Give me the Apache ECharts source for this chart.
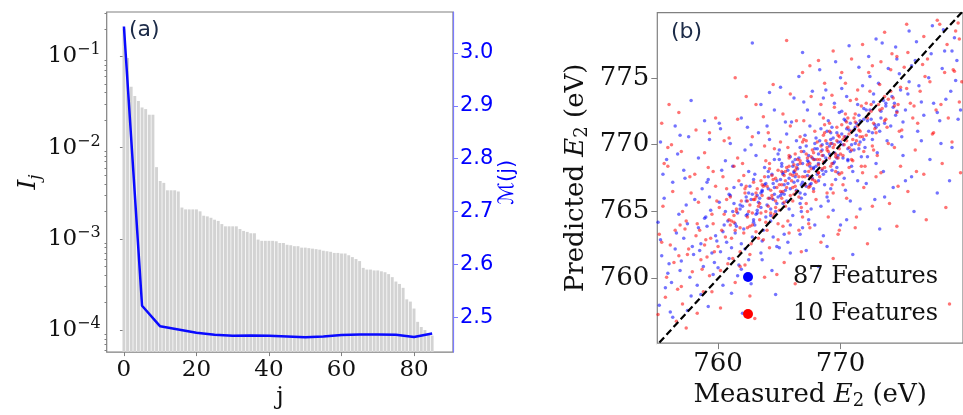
<!DOCTYPE html>
<html>
<head>
<meta charset="utf-8">
<script src="https://cdn.jsdelivr.net/npm/echarts@6/dist/echarts.min.js"></script>
<style>
html,body{margin:0;padding:0;background:#fff;}
#c{width:963px;height:415px;}
</style>
</head>
<body>
<div id="c"></div>
<script>
// ---------- Panel (a) data ----------
const importance = [0.2,0.096,0.0465,0.0367,0.0324,0.0275,0.0264,0.0229,0.0229,0.0061,
0.0043,0.0041,0.0034,0.0034,0.0034,0.0033,0.0022,0.0021,0.0021,0.0021,
0.0021,0.0020,0.00179,0.00176,0.0017,0.00162,0.00157,0.00145,0.00137,0.00137,
0.00137,0.00137,0.00128,0.00122,0.00119,0.00115,0.00115,0.00098,0.00095,0.00095,
0.00095,0.00095,0.00094,0.0009,0.0009,0.00086,0.00085,0.00083,0.00083,0.0008,
0.0008,0.00079,0.00078,0.00077,0.00076,0.00074,0.00073,0.00072,0.0007,0.0007,
0.00069,0.00069,0.00066,0.00063,0.0006,0.00057,0.00048,0.00046,0.00046,0.00045,
0.00045,0.00044,0.00043,0.00041,0.00038,0.00034,0.00032,0.00029,0.000217,0.000205,
0.000172,0.000123,0.000108,0.0001,0.000093,0.000087];
const lineJ = [0,5,10,15,20,25,30,35,40,45,50,55,60,65,70,75,80,85];
const lineM = [3.05,2.522,2.483,2.477,2.471,2.467,2.465,2.4655,2.465,2.464,2.4625,2.464,2.4665,2.4675,2.4675,2.467,2.463,2.4695];
const xTicksA = [0,20,40,60,80];
const yTicksA = [1e-4,1e-3,1e-2,1e-1];
const yMinorA = [6e-5,7e-5,8e-5,9e-5,2e-4,3e-4,4e-4,5e-4,6e-4,7e-4,8e-4,9e-4,
  2e-3,3e-3,4e-3,5e-3,6e-3,7e-3,8e-3,9e-3,2e-2,3e-2,4e-2,5e-2,6e-2,7e-2,8e-2,9e-2,2e-1,3e-1];
const yTicksRight = [2.5,2.6,2.7,2.8,2.9,3.0];

// ---------- Panel (b) data ----------
const xTicksB = [760,770];
const yTicksB = [760,765,770,775];
const diagLine = [[750,750],[785,785]];
const blue87 = [
[755.4,761.7],[755.1,764.2],[755.7,759.3],[755.3,762.9],[755.9,760.4],[755.6,766.0],
[756.5,762.2],[756.2,759.7],[756.8,764.8],[756.0,761.1],[756.6,763.4],[756.3,767.2],[756.9,760.6],
[757.2,763.0],[757.7,760.1],[757.4,765.5],[757.9,762.4],[757.0,761.3],[757.5,764.1],[757.8,758.7],[757.3,767.5],
[758.6,762.6],[758.1,765.9],[758.8,760.9],[758.4,763.8],[758.0,761.8],[758.7,766.7],[758.3,759.5],[758.9,764.5],[758.5,762.1],
[759.1,763.9],[759.7,761.2],[759.4,765.1],[759.9,762.8],[759.2,767.4],[759.6,760.3],[759.0,764.6],[759.8,763.2],[759.3,766.1],[759.5,761.9],
[760.4,763.5],[760.9,766.3],[760.2,762.0],[760.6,765.0],[760.0,760.8],[760.8,764.3],[760.3,768.1],[760.7,762.7],[760.1,765.7],[760.5,764.0],[760.9,761.5],
[761.6,764.9],[761.1,762.3],[761.9,767.0],[761.3,765.6],[761.7,761.0],[761.0,766.2],[761.4,763.4],[761.8,765.2],[761.2,768.4],[761.5,763.9],[761.9,762.6],[761.3,766.8],[761.6,760.2],
[762.3,766.1],[762.8,763.1],[762.0,765.4],[762.5,768.0],[762.9,764.2],[762.2,762.2],[762.6,766.9],[762.4,764.8],[762.7,770.0],[762.1,763.7],[762.9,767.4],[762.5,761.4],[762.3,765.8],[762.8,766.3],
[763.5,766.4],[763.0,764.0],[763.8,768.3],[763.2,765.1],[763.6,762.8],[763.9,767.1],[763.4,766.0],[763.1,769.2],[763.7,763.6],[763.3,765.7],[763.9,764.6],[763.5,761.9],[763.0,767.8],[763.6,766.5],[763.2,764.9],
[764.1,766.7],[764.6,768.9],[764.3,764.3],[764.8,767.3],[764.0,765.5],[764.5,763.1],[764.9,766.1],[764.2,770.4],[764.7,765.0],[764.4,767.8],[764.8,762.4],[764.1,768.0],[764.6,766.3],[764.3,764.7],[764.9,769.3],[764.5,765.9],
[765.3,767.8],[765.8,765.2],[765.0,769.6],[765.5,766.6],[765.9,764.0],[765.2,768.4],[765.7,767.1],[765.4,763.3],[765.1,766.2],[765.6,770.8],[765.8,767.5],[765.3,765.6],[765.0,768.9],[765.7,762.7],[765.4,767.0],[765.9,769.1],[765.2,766.4],
[766.2,768.0],[766.7,765.6],[766.4,770.3],[766.9,767.2],[766.1,764.7],[766.6,769.0],[766.3,767.6],[766.8,766.0],[766.0,771.7],[766.5,768.5],[766.9,763.8],[766.2,767.9],[766.7,769.8],[766.4,766.6],[766.1,768.7],[766.8,765.0],[766.5,767.3],
[767.4,768.7],[767.1,766.3],[767.9,770.1],[767.3,767.7],[767.6,765.2],[767.0,769.5],[767.8,768.2],[767.5,771.4],[767.2,766.9],[767.7,769.0],[767.4,764.4],[767.9,768.9],[767.1,770.7],[767.6,767.1],[767.3,772.6],[767.8,766.7],[767.5,768.4],
[768.2,769.3],[768.7,767.0],[768.4,771.2],[768.0,768.4],[768.9,766.1],[768.5,770.0],[768.1,769.7],[768.6,767.8],[768.3,772.3],[768.8,769.0],[768.4,765.4],[768.0,770.5],[768.7,768.7],[768.2,767.3],[768.9,771.0],[768.5,768.1],[768.6,773.5],
[769.3,770.1],[769.8,767.9],[769.0,771.8],[769.5,769.4],[769.2,766.7],[769.7,770.9],[769.4,768.6],[769.9,772.4],[769.1,769.9],[769.6,767.4],[769.3,771.3],[769.8,769.2],[769.0,765.8],[769.5,773.1],[769.2,770.4],[769.7,768.3],
[770.4,770.6],[770.9,768.4],[770.1,772.5],[770.6,769.7],[770.3,767.5],[770.8,771.6],[770.0,770.2],[770.5,773.6],[770.2,769.0],[770.7,771.1],[770.4,766.6],[770.9,770.0],[770.1,774.2],[770.6,768.8],[770.3,771.9],
[771.2,771.3],[771.7,769.1],[771.4,773.0],[771.9,770.4],[771.0,768.0],[771.5,772.2],[771.3,770.7],[771.8,774.4],[771.1,769.6],[771.6,771.8],[771.4,767.3],[771.9,772.7],[771.2,770.1],
[772.5,771.9],[772.0,769.8],[772.7,773.8],[772.3,771.0],[772.9,768.6],[772.1,772.6],[772.6,770.4],[772.4,775.1],[772.8,771.5],[772.2,769.1],[772.7,773.2],
[773.3,772.5],[773.8,770.3],[773.1,774.6],[773.6,771.6],[773.0,769.4],[773.5,773.3],[773.9,775.7],[773.2,771.0],[773.7,772.9],
[774.4,773.1],[774.1,771.4],[774.8,775.3],[774.5,772.2],[774.2,770.0],[774.9,774.1],[774.6,776.4],[774.3,772.8],
[775.5,773.8],[775.1,771.7],[775.8,775.9],[775.3,772.6],[775.6,774.7],[775.0,770.6],
[776.4,774.4],[776.8,772.2],[776.1,776.3],[776.6,773.2],[776.3,771.0],
[777.2,775.0],[777.6,773.1],[777.4,776.8],[777.9,772.4],
[778.3,775.7],[778.6,773.4],[778.1,771.8],
[779.4,774.8],[779.1,777.0],
[757.8,773.3],[762.8,777.6],[766.9,776.9],[756.3,757.1],[758.9,771.8],[773.6,766.1],[777.9,766.4],[764.2,773.9],
[760.2,771.2],[775.3,767.3],[770.5,764.4],[779.1,769.8],[756.9,770.7],[768.9,762.4],[772.9,777.9],
[761.4,764.1],[761.8,765.5],[761.2,765.0],
[762.3,764.7],[762.7,765.9],[762.5,766.4],[762.9,764.4],
[763.2,766.2],[763.5,765.3],[763.8,767.0],[763.1,764.8],[763.6,766.6],
[764.2,766.0],[764.5,767.1],[764.8,765.6],[764.1,767.6],[764.6,766.8],[764.3,765.2],
[765.1,767.4],[765.4,766.3],[765.7,768.1],[765.3,767.9],[765.9,766.7],[765.6,765.8],[765.2,768.6],
[766.2,767.2],[766.5,768.2],[766.8,767.0],[766.3,768.9],[766.7,766.4],[766.1,768.4],[766.9,768.6],
[767.1,768.0],[767.4,769.2],[767.7,767.5],[767.3,768.8],[767.9,769.7],[767.5,767.0],[767.2,769.9],[767.8,768.3],
[768.2,768.6],[768.5,769.6],[768.8,768.0],[768.3,770.3],[768.6,769.2],[768.1,767.8],[768.9,770.1],
[769.1,769.3],[769.4,770.5],[769.7,769.0],[769.2,770.9],[769.5,768.7],[769.8,770.2],[769.3,768.1],
[770.2,770.0],[770.5,771.2],[770.8,769.5],[770.1,770.8],[770.6,768.9],[770.4,771.8],
[771.3,771.6],[771.6,770.2],[771.1,771.1],[771.9,771.9],[771.5,769.7],
[772.2,771.8],[772.6,770.9],[772.4,772.6],[772.9,771.3],
[773.3,772.0],[773.7,773.1],[773.1,771.5],
[774.2,773.6],[774.6,772.5],
[755.5,767.8],[756.7,769.3],[757.2,768.1],[757.6,770.6],[758.4,769.0],[759.1,767.2],[759.3,770.4],[760.1,771.6],[760.6,768.8],[761.0,770.1],
[761.9,772.0],[762.2,769.6],[762.4,771.3],[763.3,770.9],[763.5,773.0],[764.0,771.4],[764.6,772.6],[765.1,774.3],[765.5,771.7],[766.2,773.5],
[766.6,775.1],[767.0,773.2],[767.7,774.0],[768.3,775.6],[768.8,774.1],[769.6,776.2],[770.0,775.0],[770.7,777.4],[771.5,775.8],[772.3,776.6],
[773.4,777.6],[774.5,777.3],[775.6,778.5],[776.2,777.7],[777.5,778.9],[778.5,777.0],[779.3,778.0],
[757.5,757.6],[758.6,758.8],[759.2,757.9],[760.4,759.5],[761.1,758.9],[761.9,760.7],[762.7,759.6],[763.6,761.4],[764.4,760.6],[765.0,762.3],
[765.9,761.9],[766.7,763.3],[767.2,762.1],[767.9,764.0],[768.6,763.2],[769.4,765.1],[770.0,764.0],[770.8,765.8],[771.6,765.2],[772.1,767.1],
[772.8,765.9],[773.5,768.0],[774.3,766.8],[775.1,769.2],[775.8,767.6],[776.6,770.3],[777.3,768.9],[778.2,770.1],[778.9,767.3],[779.6,771.9],
[776.0,765.0],[773.2,763.7],[771.0,761.8],[768.2,760.9],[764.7,758.8],[762.0,757.4],
[755.2,758.0],[755.8,768.9],[756.1,757.5],[755.3,770.2],[756.5,771.4],
[779.0,774.0],[779.8,772.6],[778.4,778.6],[779.5,776.3]
];
const red10 = [
[755.2,763.3],[755.8,760.1],[755.5,765.4],[755.0,761.6],[755.7,758.6],[755.4,762.7],
[756.4,761.2],[756.9,764.0],[756.1,762.5],[756.7,759.2],[756.3,766.5],[756.5,763.6],[756.8,761.7],
[757.6,762.2],[757.1,765.0],[757.9,760.5],[757.3,763.7],[757.8,766.4],[757.5,761.8],[757.0,759.4],[757.4,764.3],
[758.2,763.2],[758.7,760.7],[758.4,765.7],[758.9,762.5],[758.1,767.8],[758.6,761.4],[758.3,764.1],[758.8,759.0],[758.5,763.6],
[759.4,763.0],[759.9,765.8],[759.1,761.6],[759.6,764.1],[759.3,760.2],[759.8,766.9],[759.0,762.9],[759.5,764.8],[759.7,762.0],[759.2,768.3],
[760.5,764.8],[760.0,762.4],[760.7,766.7],[760.3,763.6],[760.8,761.1],[760.1,765.3],[760.6,763.1],[760.4,767.6],[760.9,764.4],[760.2,760.6],[760.7,765.9],
[761.3,764.2],[761.8,762.0],[761.0,766.1],[761.5,765.0],[761.2,761.5],[761.7,767.3],[761.4,763.6],[761.9,765.8],[761.1,763.0],[761.6,769.0],[761.3,764.7],[761.8,760.9],[761.0,764.0],
[762.6,765.5],[762.1,763.4],[762.9,767.2],[762.4,764.6],[762.7,762.6],[762.2,766.4],[762.5,765.0],[762.0,768.6],[762.8,764.0],[762.3,766.9],[762.6,761.8],[762.9,765.9],[762.4,763.8],[762.1,767.7],
[763.3,765.4],[763.8,767.6],[763.1,763.5],[763.6,766.2],[763.4,764.4],[763.9,768.8],[763.2,766.7],[763.7,762.9],[763.0,765.9],[763.5,764.9],[763.8,769.9],[763.3,763.0],[763.6,767.0],[763.1,766.1],[763.9,764.2],
[764.4,766.2],[764.9,764.1],[764.2,768.2],[764.7,765.8],[764.0,763.6],[764.5,767.4],[764.8,766.8],[764.3,764.9],[764.6,769.7],[764.1,766.0],[764.9,762.9],[764.4,767.7],[764.7,765.3],[764.2,768.6],[764.5,764.6],[764.0,766.9],
[765.5,767.3],[765.0,765.1],[765.8,769.0],[765.3,766.5],[765.7,764.3],[765.2,768.0],[765.9,767.8],[765.4,765.7],[765.1,770.2],[765.6,766.8],[765.3,763.9],[765.8,768.4],[765.0,767.0],[765.5,765.4],[765.7,769.8],[765.2,766.0],[765.9,771.4],
[766.6,767.6],[766.1,765.8],[766.8,769.5],[766.3,766.9],[766.9,764.6],[766.4,768.3],[766.0,767.3],[766.7,770.6],[766.2,766.3],[766.5,768.9],[766.8,765.3],[766.3,768.1],[766.6,763.6],[766.1,767.7],[766.9,770.2],[766.4,766.5],[766.7,768.6],
[767.3,768.5],[767.8,766.5],[767.0,770.4],[767.5,767.6],[767.2,765.6],[767.7,769.6],[767.4,768.0],[767.9,771.0],[767.1,767.0],[767.6,769.1],[767.3,765.0],[767.8,768.9],[767.0,771.8],[767.5,766.9],[767.2,769.3],[767.7,767.4],[767.4,764.1],
[768.5,769.2],[768.0,767.2],[768.7,770.9],[768.2,768.5],[768.9,766.4],[768.4,769.9],[768.1,768.9],[768.6,772.0],[768.3,767.6],[768.8,770.3],[768.0,765.9],[768.5,768.2],[768.7,771.5],[768.2,767.9],[768.9,769.6],[768.4,773.0],[768.6,768.7],
[769.4,769.8],[769.9,767.8],[769.1,771.6],[769.6,769.1],[769.3,767.0],[769.8,770.7],[769.0,769.5],[769.5,772.8],[769.2,768.4],[769.7,770.3],[769.4,766.4],[769.9,769.7],[769.1,771.0],[769.6,768.0],[769.3,773.7],[769.8,769.0],
[770.2,770.4],[770.7,768.3],[770.4,772.3],[770.9,769.6],[770.1,767.9],[770.6,771.3],[770.3,770.0],[770.8,773.3],[770.0,769.3],[770.5,771.7],[770.2,767.0],[770.7,770.8],[770.4,774.6],[770.9,768.9],[770.6,772.0],
[771.5,771.1],[771.0,768.8],[771.7,772.9],[771.3,770.3],[771.8,767.9],[771.1,772.0],[771.6,770.6],[771.4,774.1],[771.9,769.5],[771.2,771.7],[771.7,768.4],[771.3,773.4],[771.5,770.0],
[772.2,772.0],[772.7,769.6],[772.4,774.0],[772.9,770.9],[772.0,768.4],[772.5,772.5],[772.8,771.2],[772.3,775.4],[772.6,769.9],[772.1,773.1],[772.9,767.6],
[773.4,772.7],[773.9,770.1],[773.2,774.5],[773.7,771.9],[773.0,769.2],[773.6,773.6],[773.3,776.2],[773.8,771.3],[773.1,773.0],
[774.3,773.5],[774.8,771.0],[774.1,775.6],[774.6,772.4],[774.4,769.8],[774.9,774.3],[774.2,776.8],[774.7,773.0],
[775.4,774.2],[775.9,772.0],[775.2,775.8],[775.7,773.1],[775.0,771.1],[775.5,776.9],
[776.5,774.0],[776.0,772.9],[776.7,776.0],[776.3,771.6],[776.9,775.1],
[777.3,774.7],[777.8,772.6],[777.1,776.4],[777.6,770.9],
[778.5,775.4],[778.2,773.0],[778.8,772.0],
[779.3,775.5],[779.7,773.2],
[756.8,772.4],[761.4,775.0],[765.6,777.8],[757.4,756.3],[760.9,770.5],[774.7,766.9],[778.6,765.3],[763.1,773.0],
[759.3,770.9],[776.2,768.0],[769.9,763.6],[779.4,778.5],[755.6,768.6],[771.2,763.8],[767.5,775.9],[778.9,758.1],[764.8,760.3],
[761.5,765.2],[761.1,764.3],[761.8,763.8],
[762.4,765.8],[762.8,764.9],[762.2,766.7],[762.6,763.9],
[763.4,765.6],[763.7,766.9],[763.1,766.4],[763.9,765.0],[763.5,767.3],
[764.3,766.6],[764.7,767.5],[764.1,765.4],[764.9,768.1],[764.4,766.0],[764.6,764.8],
[765.2,767.0],[765.6,768.3],[765.9,766.2],[765.4,767.7],[765.1,766.5],[765.8,769.2],[765.5,768.0],
[766.4,767.8],[766.7,768.8],[766.1,766.8],[766.9,767.6],[766.3,769.3],[766.6,766.1],[766.2,768.5],
[767.3,769.0],[767.6,768.2],[767.9,767.3],[767.2,770.3],[767.5,768.6],[767.1,767.6],[767.8,769.4],[767.4,766.8],
[768.4,769.5],[768.7,768.3],[768.1,770.2],[768.9,769.8],[768.2,767.9],[768.6,770.7],[768.3,768.9],
[769.2,770.1],[769.6,769.3],[769.9,770.6],[769.3,768.6],[769.7,771.3],[769.1,769.0],[769.5,770.0],
[770.3,770.6],[770.7,769.8],[770.1,771.5],[770.5,770.3],[770.9,771.0],[770.2,769.2],
[771.4,771.4],[771.8,770.6],[771.2,772.3],[771.6,771.0],[771.0,770.4],
[772.3,772.3],[772.7,771.6],[772.1,770.7],[772.5,773.0],
[773.2,772.6],[773.6,771.8],[773.9,773.4],
[774.4,772.9],[774.1,774.0],
[755.9,768.4],[756.2,770.0],[757.0,769.5],[757.7,767.6],[758.2,771.1],[758.9,769.4],[759.6,768.0],[759.8,772.0],[760.5,770.3],[761.3,768.4],
[761.6,771.9],[762.3,773.6],[762.8,770.6],[763.7,772.1],[764.1,770.9],[764.5,774.5],[765.3,772.3],[765.9,773.8],[766.4,771.8],[766.9,775.4],
[767.6,773.6],[768.2,776.3],[768.7,774.6],[769.4,777.0],[770.1,775.4],[770.9,776.4],[771.8,777.5],[772.6,775.9],[773.6,778.4],[774.6,776.6],
[775.4,779.0],[776.8,778.1],[777.9,779.3],[778.7,777.5],[779.6,779.1],
[757.1,758.1],[758.3,757.4],[759.5,759.0],[760.2,757.8],[761.4,759.7],[762.2,761.0],[762.6,758.7],[763.8,760.1],[764.2,762.3],[765.4,761.2],
[765.8,763.4],[766.8,762.0],[767.5,763.8],[768.4,762.7],[769.0,764.6],[769.8,763.3],[770.5,766.0],[771.3,764.6],[771.9,766.8],[772.6,765.4],
[773.3,767.9],[774.0,765.6],[774.9,768.4],[775.5,766.5],[776.1,769.6],[776.8,767.8],[777.5,770.8],[778.3,768.6],[779.1,770.2],[779.8,767.9],
[777.0,764.4],[774.6,763.9],[772.2,762.6],[769.4,761.5],[766.3,759.6],[763.0,757.0],
[755.1,757.3],[755.9,769.8],[756.6,756.8],[755.4,771.6],[756.0,773.0],
[779.2,775.6],[779.9,774.7],[778.1,779.0],[779.7,777.9]
];
const seriesNames = ['87 Features','10 Features'];

// ---------- Chart ----------
const serif = 'DejaVu Serif';
const sans = 'DejaVu Sans';
const gray = '#808080';
const chart = echarts.init(document.getElementById('c'), null, {renderer:'canvas'});

const barData = importance.map((v,i)=>[i,v]);
const lineData = lineJ.map((j,i)=>[j,lineM[i]]);
const supLabel = v => '{b|10}{s|\u2212' + (-Math.round(Math.log10(v))) + '}';

function renderBar(params, api){
  const j = api.value(0), v = api.value(1);
  const top = api.coord([j, v]);
  const xl = api.coord([j - 0.4, v])[0];
  const xr = api.coord([j + 0.4, v])[0];
  const cs = params.coordSys;
  const bottom = cs.y + cs.height;
  return {type:'rect', shape:{x:xl, y:top[1], width:xr - xl, height:bottom - top[1]},
          style:{fill:'#d3d3d3'}};
}

chart.setOption({
  animation:false,
  textStyle:{fontFamily:serif},
  grid:[
    {left:106.7, top:12, width:346.3, height:343, show:true, borderColor:gray, borderWidth:1.2, containLabel:false},
    {left:657.3, top:12.7, width:312, height:337.3, show:true, borderColor:gray, borderWidth:1.2, containLabel:false}
  ],
  xAxis:[
    {gridIndex:0, type:'value', min:-4.75, max:90.75,
     axisLine:{show:false}, splitLine:{show:false},
     axisTick:{show:true, customValues:xTicksA, length:4, lineStyle:{color:gray}},
     axisLabel:{customValues:xTicksA, fontFamily:serif, fontSize:23, color:'#111', margin:6},
     name:'j', nameLocation:'middle', nameGap:33, nameTextStyle:{fontFamily:serif, fontSize:24, color:'#111'}},
    {gridIndex:1, type:'value', min:755.04, max:780,
     axisLine:{show:false}, splitLine:{show:false},
     axisTick:{show:true, customValues:xTicksB, length:6, lineStyle:{color:gray}},
     axisLabel:{customValues:xTicksB, fontFamily:serif, fontSize:26, color:'#111', margin:8},
     name:'{n|Measured }{i|E}{s|2}{n| (eV)}', nameLocation:'middle', nameGap:32,
     nameTextStyle:{fontFamily:serif, fontSize:26, color:'#111',
       rich:{n:{fontFamily:serif, fontSize:26, color:'#111', lineHeight:30},
             i:{fontFamily:serif, fontStyle:'italic', fontSize:26, color:'#111', lineHeight:30},
             s:{fontFamily:serif, fontSize:18, color:'#111', verticalAlign:'bottom', lineHeight:18}}}}
  ],
  yAxis:[
    {gridIndex:0, type:'log', min:5.73e-5, max:0.306, position:'left',
     axisLine:{show:false}, splitLine:{show:false},
     axisTick:{show:true, customValues:yTicksA, length:4, lineStyle:{color:gray}},
     axisLabel:{customValues:yTicksA, formatter:supLabel, margin:6,
       rich:{b:{fontFamily:serif, fontSize:23, color:'#111', lineHeight:28},
             s:{fontFamily:serif, fontSize:16, color:'#111', verticalAlign:'top', lineHeight:16}}},
     name:'{i|I}{s|j}', nameLocation:'middle', nameGap:62,
     nameTextStyle:{rich:{i:{fontFamily:serif, fontStyle:'italic', fontSize:25, color:'#111', lineHeight:30},
       s:{fontFamily:serif, fontStyle:'italic', fontSize:17, color:'#111', verticalAlign:'bottom', lineHeight:17}}}},
    {gridIndex:0, type:'log', min:5.73e-5, max:0.306, position:'left',
     axisLine:{show:false}, splitLine:{show:false}, axisLabel:{show:false},
     axisTick:{show:true, customValues:yMinorA, length:2.2, lineStyle:{color:gray}}},
    {gridIndex:0, type:'value', min:2.4343, max:3.0775, position:'right',
     axisLine:{show:true, lineStyle:{color:'#7b7bff', width:1.2}}, splitLine:{show:false},
     axisTick:{show:true, customValues:yTicksRight, length:5, lineStyle:{color:'#7b7bff'}},
     axisLabel:{customValues:yTicksRight, formatter:v=>v.toFixed(1), fontFamily:sans, fontSize:21, color:'#0000ff', margin:7},
     name:'\u2133(j)', nameLocation:'middle', nameGap:42,
     nameTextStyle:{fontFamily:sans, fontSize:21, color:'#0000ff'}},
    {gridIndex:1, type:'value', min:755.17, max:779.87,
     axisLine:{show:false}, splitLine:{show:false},
     axisTick:{show:true, customValues:yTicksB, length:6, lineStyle:{color:gray}},
     axisLabel:{customValues:yTicksB, fontFamily:serif, fontSize:26, color:'#111', margin:8},
     name:'{n|Predicted }{i|E}{s|2}{n| (eV)}', nameLocation:'middle', nameGap:66,
     nameTextStyle:{rich:{n:{fontFamily:serif, fontSize:26, color:'#111', lineHeight:30},
             i:{fontFamily:serif, fontStyle:'italic', fontSize:26, color:'#111', lineHeight:30},
             s:{fontFamily:serif, fontSize:18, color:'#111', verticalAlign:'bottom', lineHeight:18}}}}
  ],
  legend:{
    data:seriesNames, orient:'vertical', left:738, top:257, itemWidth:10, itemHeight:10, itemGap:7,
    icon:'circle', itemStyle:{opacity:1},
    textStyle:{fontFamily:serif, fontSize:24, color:'#111', lineHeight:30, padding:[0,0,0,35]}
  },
  graphic:[
    {type:'text', left:129, top:19, z:100, style:{text:'(a)', fontFamily:sans, fontSize:22, fill:'#1c2b48'}},
    {type:'text', left:671, top:21, z:100, style:{text:'(b)', fontFamily:sans, fontSize:22, fill:'#1c2b48'}}
  ],
  series:[
    {type:'custom', xAxisIndex:0, yAxisIndex:0, data:barData, renderItem:renderBar,
     encode:{x:0, y:1}, silent:true, z:1, clip:true},
    {type:'line', xAxisIndex:0, yAxisIndex:2, data:lineData, symbol:'none',
     lineStyle:{color:'#0a0aff', width:2.5}, silent:true, z:3},
    {type:'scatter', name:seriesNames[0], xAxisIndex:1, yAxisIndex:3, data:blue87, symbolSize:3.5,
     itemStyle:{color:'#0000ff', opacity:0.55}, silent:true, z:2},
    {type:'scatter', name:seriesNames[1], xAxisIndex:1, yAxisIndex:3, data:red10, symbolSize:3.5,
     itemStyle:{color:'#ff0000', opacity:0.55}, silent:true, z:2},
    {type:'line', xAxisIndex:1, yAxisIndex:3, data:diagLine, symbol:'none', clip:true,
     lineStyle:{color:'#000', width:2.2, type:[7,3.5]}, silent:true, z:4}
  ]
});
</script>
</body>
</html>
